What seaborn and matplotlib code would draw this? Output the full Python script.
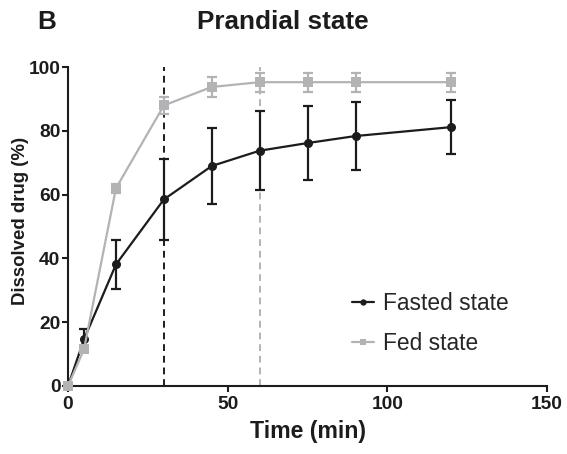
import matplotlib
matplotlib.use("Agg")
import matplotlib.pyplot as plt
import seaborn as sns
import pandas as pd
import numpy as np

time_min = [0, 5, 15, 30, 45, 60, 75, 90, 120]
fasted_mean = [0, 14.6, 38.1, 58.5, 69.0, 73.8, 76.2, 78.4, 81.2]
fasted_err = [0, 3.3, 7.7, 12.6, 12.0, 12.4, 11.7, 10.6, 8.4]
fed_mean = [0, 11.5, 62.0, 88.0, 93.8, 95.3, 95.3, 95.3, 95.3]
fed_err = [0, 1.0, 1.5, 2.8, 3.0, 3.0, 3.0, 3.0, 3.0]
series_names = ["Fasted state", "Fed state"]
series_colors = ["#1c1c1c", "#b3b3b5"]
series_markers = ["o", "s"]
vline_times = [30, 60]
x_ticks = [0, 50, 100, 150]
y_ticks = [0, 20, 40, 60, 80, 100]

sns.set_theme(style="ticks")
plt.rcParams["font.family"] = ["Liberation Sans", "DejaVu Sans"]

df = pd.DataFrame({
    "time": time_min * 2,
    "value": fasted_mean + fed_mean,
    "err": fasted_err + fed_err,
    "state": [series_names[0]] * len(time_min) + [series_names[1]] * len(time_min),
})

fig = plt.figure(figsize=(5.67, 4.54), dpi=100)
ax = fig.add_axes([0.12, 0.15, 0.845, 0.702])

for i, vt in enumerate(vline_times):
    ax.plot([vt, vt], [0, 100], ls=(0, (3.5, 2.5)), color=series_colors[i], lw=1.4, zorder=1)

for name, col, mk in zip(series_names, series_colors, series_markers):
    sub = df[df.state == name]
    ax.errorbar(sub.time, sub.value, yerr=sub.err, fmt="none", ecolor=col,
                elinewidth=1.6, capsize=3.8, capthick=1.6, zorder=2)

sns.lineplot(data=df, x="time", y="value", hue="state", style="state",
             palette=dict(zip(series_names, series_colors)),
             markers=dict(zip(series_names, series_markers)), dashes=False,
             markersize=6.5, markeredgewidth=0, linewidth=1.6, ax=ax, zorder=3)

ax.set_xlim(0, 150)
ax.set_ylim(0, 100)
ax.set_xticks(x_ticks)
ax.set_yticks(y_ticks)
for lab in ax.get_xticklabels() + ax.get_yticklabels():
    lab.set_fontweight("bold")
    lab.set_fontsize(13.8)
ax.tick_params(axis="both", width=1.5, length=4.5, color="#1c1c1c", labelcolor="#1c1c1c")
ax.tick_params(axis="y", pad=1)
ax.tick_params(axis="x", pad=3)
for s in ["top", "right"]:
    ax.spines[s].set_visible(False)
for s in ["left", "bottom"]:
    ax.spines[s].set_linewidth(1.5)
    ax.spines[s].set_color("#1c1c1c")
ax.spines["left"].set_bounds(0, 100)
ax.spines["bottom"].set_bounds(0, 150)

ax.set_xlabel("Time (min)", fontsize=16.7, fontweight="bold", color="#1c1c1c", labelpad=5)
ax.set_ylabel("Dissolved drug (%)", fontsize=13.4, fontweight="bold", color="#1c1c1c")
ax.yaxis.set_label_coords(-0.082, 0.517)
fig.text(0.498, 0.951, "Prandial state", fontsize=18.8, fontweight="bold", color="#1c1c1c",
         ha="center", va="center")
fig.text(0.066, 0.951, "B", fontsize=18.8, fontweight="bold", color="#1c1c1c",
         ha="left", va="center")

leg = ax.legend(loc="upper left", bbox_to_anchor=(0.55, 0.36), frameon=False,
                fontsize=16.4, handlelength=0.95, handletextpad=0.4, labelspacing=0.77,
                markerscale=0.7)
for line in ax.lines:
    line.set_clip_on(False)

fig.savefig("out.png", dpi=100)
